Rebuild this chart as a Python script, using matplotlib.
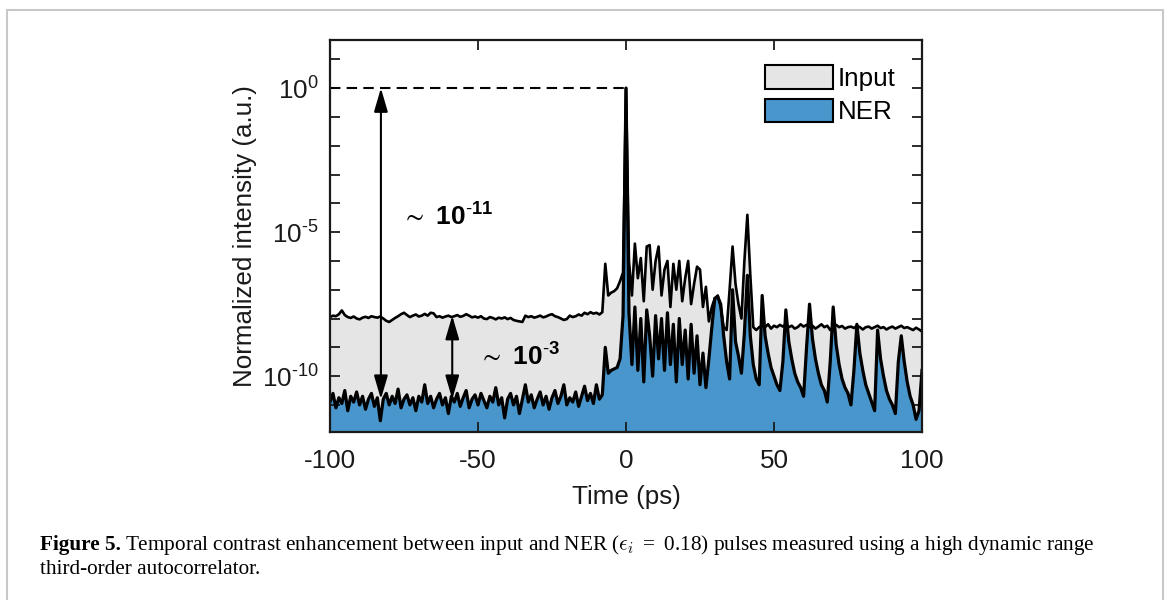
import numpy as np
import matplotlib
matplotlib.use("Agg")
import matplotlib.pyplot as plt
from matplotlib.ticker import FixedLocator, FuncFormatter, NullLocator
from matplotlib.patches import Patch, Rectangle

plt.rcParams["font.family"] = ["Liberation Sans", "DejaVu Sans"]
plt.rcParams["mathtext.fontset"] = "custom"
plt.rcParams["mathtext.rm"] = "Liberation Sans"
plt.rcParams["mathtext.bf"] = "Liberation Sans:bold"
plt.rcParams["mathtext.default"] = "regular"

# time axis, 1 ps sampling
time_ps = np.arange(-100, 101)

# log10 of normalized intensity
input_log10 = [
    -7.95, -7.90, -7.92, -7.85, -7.72, -7.88, -7.95, -7.98, -7.93, -8.00,
    -8.03, -7.97, -7.94, -7.98, -7.92, -7.95, -7.97, -7.93, -8.00, -8.08,
    -8.12, -8.05, -7.98, -7.92, -7.85, -7.80, -7.88, -7.95, -7.90, -7.86,
    -7.93, -7.90, -7.84, -7.90, -7.80, -7.82, -7.95, -7.92, -7.97, -7.93,
    -7.90, -7.95, -7.92, -7.88, -7.94, -7.91, -7.85, -7.90, -7.96, -7.93,
    -7.97, -7.92, -8.00, -8.02, -7.95, -7.98, -8.03, -7.97, -8.00, -7.96,
    -8.02, -7.98, -8.05, -8.08, -8.10, -8.12, -7.90, -7.95, -7.92, -7.97,
    -7.94, -7.90, -7.96, -7.93, -7.88, -7.85, -7.92, -7.95, -8.00, -8.05,
    -8.02, -7.90, -7.95, -7.92, -7.86, -7.90, -7.80, -7.85, -7.78, -7.83,
    -7.80, -7.86, -7.78, -6.10, -7.20, -7.10, -7.05, -6.95, -6.70, -6.40,
    0.00, -6.00, -7.20, -5.40, -6.60, -5.90, -7.40, -5.50, -5.45, -7.00,
    -6.00, -5.50, -7.20, -6.30, -6.00, -7.60, -6.10, -7.00, -6.00, -7.40,
    -6.60, -6.00, -7.50, -6.80, -6.20, -6.30, -7.60, -6.90, -8.10, -7.60,
    -7.30, -7.20, -7.60, -8.30, -8.40, -7.00, -5.50, -6.80, -7.50, -8.00,
    -6.00, -4.40, -6.50, -8.30, -8.40, -8.30, -8.25, -8.30, -8.20, -8.35,
    -8.25, -8.30, -8.22, -8.28, -8.20, -8.30, -8.25, -8.35, -8.30, -8.20,
    -8.28, -8.22, -8.30, -8.25, -8.35, -8.28, -8.20, -8.30, -8.25, -8.40,
    -8.30, -8.22, -8.30, -8.26, -8.35, -8.30, -8.28, -8.33, -8.25, -8.30,
    -8.38, -8.30, -8.28, -8.35, -8.30, -8.25, -8.33, -8.30, -8.38, -8.32,
    -8.28, -8.35, -8.30, -8.25, -8.33, -8.30, -8.35, -8.40, -8.32, -8.38,
    -8.45,
]

ner_log10 = [
    -10.90, -10.60, -11.10, -10.75, -10.95, -10.50, -11.20, -10.70, -10.90, -10.55,
    -11.00, -10.70, -11.15, -10.80, -10.60, -11.05, -10.75, -11.55, -10.80, -10.60,
    -11.00, -10.70, -10.95, -10.45, -11.10, -10.80, -10.65, -11.00, -10.75, -11.20,
    -10.70, -10.90, -10.30, -10.95, -10.70, -11.10, -10.80, -10.60, -11.00, -10.75,
    -11.30, -10.70, -10.90, -10.60, -11.05, -10.75, -10.50, -11.10, -10.80, -10.65,
    -11.00, -10.60, -10.85, -11.10, -10.70, -10.90, -10.40, -11.00, -10.75, -11.45,
    -10.80, -10.60, -11.00, -10.70, -11.30, -10.80, -10.30, -10.90, -10.65, -11.10,
    -10.80, -10.55, -11.00, -10.70, -11.15, -10.75, -10.50, -10.95, -10.70, -10.30,
    -11.00, -10.75, -10.90, -10.55, -11.05, -10.70, -10.35, -10.85, -10.60, -10.95,
    -10.30, -10.80, -10.65, -9.00, -9.90, -9.80, -9.75, -9.70, -9.40, -7.90,
    0.00, -7.80, -9.60, -7.60, -9.80, -8.00, -10.20, -7.70, -8.60, -10.00,
    -7.90, -9.40, -8.00, -9.80, -7.80, -9.60, -8.20, -10.20, -8.00, -9.60,
    -8.40, -10.10, -8.20, -9.90, -8.60, -10.30, -9.20, -10.40, -9.40, -8.30,
    -7.30, -7.25, -7.50, -8.60, -9.50, -10.10, -7.00, -8.80, -9.30, -9.90,
    -8.50, -6.50, -8.60, -9.60, -10.10, -10.30, -7.20, -8.60, -9.20, -9.70,
    -10.00, -10.30, -10.50, -9.50, -7.70, -8.80, -9.40, -9.90, -10.20, -10.40,
    -10.70, -9.00, -7.50, -8.70, -9.40, -9.90, -10.30, -10.50, -10.90, -9.50,
    -7.60, -8.90, -9.60, -10.10, -10.40, -10.60, -11.00, -9.80, -8.20, -9.20,
    -9.80, -10.30, -10.60, -10.90, -11.20, -8.40, -9.40, -10.00, -10.50, -10.80,
    -11.00, -11.30, -9.50, -8.60, -9.50, -10.20, -10.70, -11.00, -11.50, -11.20,
    -9.80,
]

series_labels = ["Input", "NER"]
contrast_labels = [r"$\sim$ $\mathbf{10^{\text{-}11}}$", r"$\sim$ $\mathbf{10^{\text{-}3}}$"]
x_ticks = [-100, -50, 0, 50, 100]
y_tick_exponents = list(range(-11, 2))
y_labelled_exponents = [-10, -5, 0]

gray_fill = "#e5e5e5"
blue_fill = "#4896cb"
ink = "#1a1a1a"

input_vals = 10.0 ** np.array(input_log10)
ner_vals = 10.0 ** np.array(ner_log10)

fig = plt.figure(figsize=(11.68, 6.0), dpi=100)
ax = fig.add_axes([330 / 1168, 1 - 432 / 600, 592 / 1168, 392 / 600])

ax.set_yscale("log")
ylo, yhi = 10 ** -11.94, 10 ** 1.67
ax.set_ylim(ylo, yhi)
ax.set_xlim(-100, 100)

ax.fill_between(time_ps, input_vals, ylo, color=gray_fill, lw=0)
ax.plot(time_ps, input_vals, color="k", lw=1.9)
ax.fill_between(time_ps, ner_vals, ylo, color=blue_fill, lw=0)
ax.plot(time_ps, ner_vals, color="k", lw=2.3)

# dashed reference at the peak level
i_peak = int(np.argmax(input_vals))
ax.hlines(input_vals[i_peak], time_ps[0], time_ps[i_peak], colors="k",
          linestyles=(0, (5, 3)), lw=1.5)

arrow = dict(arrowstyle="<|-|>,head_length=1.2,head_width=0.35",
             mutation_scale=12, lw=1.5, color="k", shrinkA=0, shrinkB=0)
ax.annotate("", xy=(-82.8, 1.0), xytext=(-82.8, 10 ** -10.8), arrowprops=arrow)
ax.annotate("", xy=(-58.7, 10 ** -7.9), xytext=(-58.7, 10 ** -10.8), arrowprops=arrow)

ax.text(-76.5, 10 ** -4.79, contrast_labels[0], fontsize=19, va="baseline", ha="left")
ax.text(-50.5, 10 ** -9.65, contrast_labels[1], fontsize=19, va="baseline", ha="left")

ax.xaxis.set_major_locator(FixedLocator(x_ticks))
ax.yaxis.set_major_locator(FixedLocator([10.0 ** e for e in y_tick_exponents]))
ax.yaxis.set_minor_locator(NullLocator())


def ylab(v, pos):
    e = int(round(np.log10(v)))
    if e not in y_labelled_exponents:
        return ""
    if e < 0:
        return r"$10^{\text{-}%d}$" % (-e)
    return r"$10^{%d}$" % e


ax.yaxis.set_major_formatter(FuncFormatter(ylab))
ax.xaxis.set_major_formatter(FuncFormatter(lambda v, p: "%d" % v))
ax.tick_params(which="both", direction="in", length=7, width=1.3, top=True,
               right=True, labelsize=18.7, colors=ink)
ax.tick_params(axis="x", pad=12)
ax.tick_params(axis="y", pad=8)
for s in ax.spines.values():
    s.set_linewidth(1.6)
    s.set_color(ink)

ax.set_xlabel("Time (ps)", fontsize=18.7, color=ink, labelpad=9)
ax.set_ylabel("Normalized intensity (a.u.)", fontsize=18.7, color=ink, labelpad=4)

handles = [Patch(facecolor=gray_fill, edgecolor="k", lw=1.5, label=series_labels[0]),
           Patch(facecolor=blue_fill, edgecolor="k", lw=1.5, label=series_labels[1])]
ax.legend(handles=handles, loc="upper left", bbox_to_anchor=(0.735, 0.935),
          frameon=False, fontsize=18.7, handlelength=2.6, handleheight=1.0,
          handletextpad=0.2, labelspacing=0.3, borderpad=0, borderaxespad=0)

# caption
cap_y1 = 1 - 545 / 600
cap_y2 = 1 - 570 / 600
cap_x = 40 / 1168
cap_size = 15.3
serif = ["Liberation Serif", "DejaVu Serif"]
t1 = fig.text(cap_x, cap_y1, "Figure 5.", fontsize=cap_size, family=serif,
              weight="bold", va="center")
fig.canvas.draw()
bb = t1.get_window_extent(fig.canvas.get_renderer())
fig.text(bb.x1 / 1168 + 4 / 1168, cap_y1,
         r"Temporal contrast enhancement between input and NER ($\mathit{\epsilon_i}\;=\;0.18$) "
         "pulses measured using a high dynamic range",
         fontsize=cap_size, family=serif, va="center", math_fontfamily="cm")
fig.text(cap_x, cap_y2, "third-order autocorrelator.", fontsize=cap_size,
         family=serif, va="center")

# page frame
fig.patches.append(Rectangle((7 / 1168, -0.1), 1156 / 1168, 1.1 - 10 / 600,
                             transform=fig.transFigure, fill=False,
                             edgecolor="#c8c8c8", lw=1.5))

fig.savefig("out.png", dpi=100)
